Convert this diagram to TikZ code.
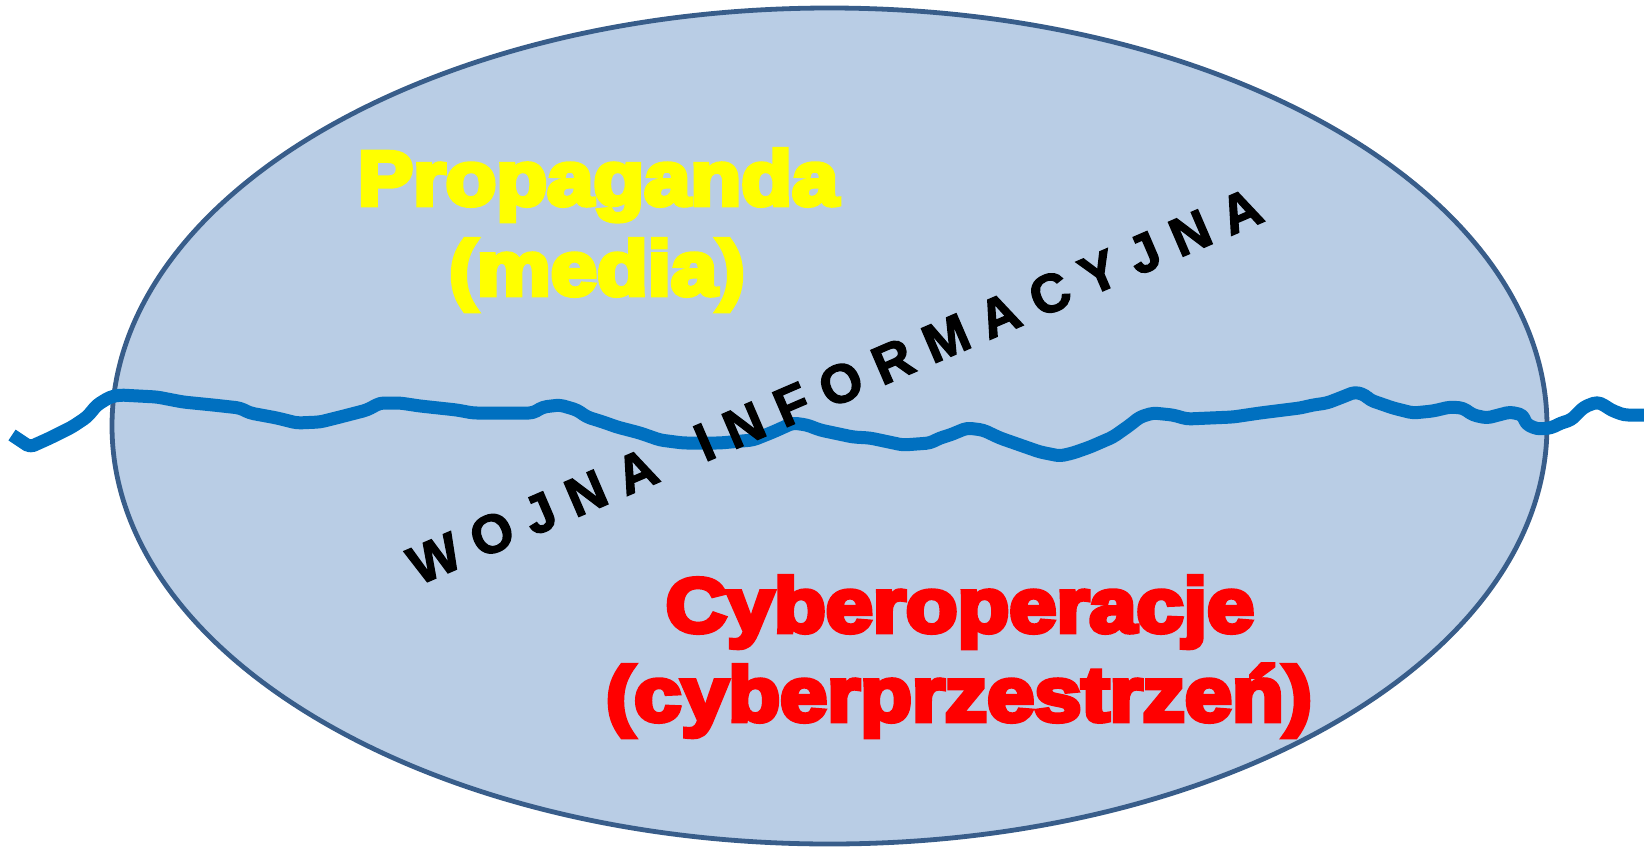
\documentclass[tikz,border=0pt]{standalone}
\usepackage{fontspec}
\setmainfont{Liberation Sans}
\newfontfamily\heavyfont{Liberation Sans Bold}[FakeBold=6]
\newfontfamily\wordfont{Liberation Sans Bold}[FakeBold=2.5]
\newcommand\lsp{\kern 8pt}
\definecolor{fieldfill}{HTML}{B9CDE5}
\definecolor{fieldline}{HTML}{385D8A}
\definecolor{waveblue}{HTML}{0070C0}
\definecolor{propyellow}{HTML}{FFFF00}
\definecolor{cyberred}{HTML}{FF0000}
\tikzset{
  fieldstyle/.style={draw=fieldline, line width=2.4pt, fill=fieldfill},
  wave/.style={draw=waveblue, line width=6.5pt, line join=round, line cap=butt, rounded corners=2pt},
  bigtext/.style={inner sep=0pt, anchor=base, font=\heavyfont\fontsize{38.5}{45}\selectfont},
  wordart/.style={inner sep=0pt, font=\wordfont\fontsize{27}{31}\selectfont, text=black}
}
\begin{document}
\begin{tikzpicture}[x=0.5pt,y=-0.5pt]
\useasboundingbox (0,0) rectangle (1644,847);
\coordinate (c) at (829.5,426);
\draw[fieldstyle] (c) ellipse [x radius=358.75pt, y radius=209pt];
\coordinate (w0) at (12,435);
\coordinate (w1) at (1644,415);
\draw[wave] (w0) -- (30,447) -- (50,438) -- (72,427) -- (87,417) -- (97,405) -- (110,397) -- (120,395)
 -- (157,397) -- (183,402) -- (213,405) -- (240,408) -- (250,413) -- (277,418) -- (297,423) -- (320,422)
 -- (340,417) -- (367,410) -- (380,403) -- (400,403) -- (420,406) -- (457,410) -- (473,413) -- (520,413)
 -- (533,413) -- (543,407) -- (560,405) -- (577,410) -- (587,417) -- (603,422) -- (617,427) -- (640,433)
 -- (660,440) -- (683,443) -- (720,443) -- (753,440) -- (773,432) -- (793,423) -- (807,425) -- (820,430)
 -- (853,437) -- (870,438) -- (903,445) -- (930,443) -- (940,438) -- (950,435) -- (967,428) -- (983,430)
 -- (1000,438) -- (1040,452) -- (1060,456) -- (1073,453) -- (1090,447) -- (1113,437) -- (1130,425) -- (1140,417)
 -- (1153,413) -- (1173,415) -- (1187,419) -- (1233,417) -- (1260,413) -- (1300,408) -- (1313,405) -- (1327,403)
 -- (1340,398) -- (1355,392) -- (1365,395) -- (1370,400) -- (1393,408) -- (1413,413) -- (1433,411) -- (1450,407)
 -- (1463,408) -- (1473,415) -- (1487,418) -- (1510,412) -- (1523,415) -- (1526,424) -- (1537,429) -- (1551,428)
 -- (1561,423) -- (1571,420) -- (1584,407) -- (1597,402) -- (1604,405) -- (1611,410) -- (1624,415) -- (w1);
\node[bigtext, text=propyellow] (prop) at (598,205) {\scalebox{1.08}[1]{Propaganda}};
\node[bigtext, text=propyellow] (media) at (597,295) {\scalebox{1.08}[1]{(media)}};
\node[bigtext, text=cyberred] (cyber) at (960,632) {\scalebox{1.10}[1]{Cyberoperacje}};
\node[bigtext, text=cyberred] (space) at (959,721) {\scalebox{1.10}[1]{(cyberprzestrzeń)}};
\node[wordart, rotate=23.3] (wojna) at (835,386) {W\lsp O\lsp J\lsp N\lsp A\lsp\ \lsp I\lsp N\lsp F\lsp O\lsp R\lsp M\lsp A\lsp C\lsp Y\lsp J\lsp N\lsp A};
\end{tikzpicture}
\end{document}
